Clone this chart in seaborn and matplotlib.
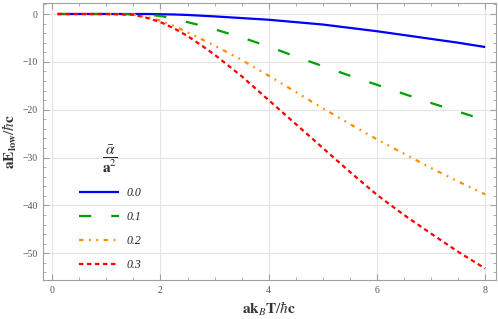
import matplotlib
matplotlib.use("Agg")
import matplotlib.pyplot as plt
import numpy as np
import pandas as pd
import seaborn as sns
from matplotlib.ticker import MultipleLocator

# temperature axis (ak_B T / hbar c)
x_vals = [0.1, 1.0, 1.5, 1.75, 2.0, 2.25, 2.5, 2.75, 3.0, 3.5, 4.0,
          4.5, 5.0, 5.5, 6.0, 6.5, 7.0, 7.5, 8.0]

# aE_low / hbar c for each alpha-bar / a^2
e_00 = [0, 0, 0, 0, -0.05, -0.1, -0.2, -0.35, -0.5, -0.85, -1.2,
        -1.7, -2.2, -2.9, -3.6, -4.4, -5.2, -6.0, -6.9]
e_01 = [0, 0, -0.05, -0.15, -0.4, -1.0, -1.7, -2.4, -3.2, -4.9, -6.8,
        -8.9, -10.9, -12.9, -14.8, -16.7, -18.6, -20.4, -22.2]
e_02 = [0, 0, -0.1, -0.6, -1.4, -2.5, -3.8, -5.2, -6.6, -9.6, -12.9,
        -16.3, -19.7, -23.0, -26.2, -29.2, -32.2, -35.0, -37.7]
e_03 = [0, 0, -0.15, -0.8, -1.7, -3.0, -4.6, -6.5, -8.5, -13.0, -18.0,
        -23.0, -28.0, -33.0, -37.8, -42.0, -45.9, -49.7, -53.2]

labels = ["0.0", "0.1", "0.2", "0.3"]
colors = ["#0000ff", "#00a000", "#ff8c00", "#ff0000"]
dashes = [(1, 0), (5.5, 9), (2, 2.5, 0.8, 2.5, 0.8, 2.5), (2, 1.6)]

df = pd.DataFrame({
    "x": x_vals * 4,
    "E": e_00 + e_01 + e_02 + e_03,
    "alpha": [lab for lab in labels for _ in x_vals],
})

sns.set_style("ticks")
plt.rcParams["font.family"] = ["Liberation Serif", "DejaVu Serif"]
plt.rcParams["mathtext.fontset"] = "stix"

fig = plt.figure(figsize=(4.98, 3.19), dpi=100)
ax = fig.add_axes([43 / 498, 1 - 280 / 319, 453 / 498, 277 / 319])

sns.lineplot(data=df, x="x", y="E", hue="alpha", style="alpha",
             palette=colors, dashes=dashes, linewidth=1.6, ax=ax)

ax.set_xlim(-0.17, 8.2)
ax.set_ylim(-55.6, 2.3)
ax.xaxis.set_major_locator(MultipleLocator(2))
ax.xaxis.set_minor_locator(MultipleLocator(0.5))
ax.yaxis.set_major_locator(MultipleLocator(10))
ax.yaxis.set_minor_locator(MultipleLocator(2))
ax.grid(True, which="major", color="#e3e3e3", linewidth=0.8)

for side in ax.spines.values():
    side.set_color("#a0a0a0")
    side.set_linewidth(0.8)
ax.tick_params(which="both", direction="in", top=True, right=True,
               color="#a0a0a0", labelcolor="#555555", labelsize=7, pad=4)
ax.tick_params(which="major", length=4)
ax.tick_params(which="minor", length=2.2)

ax.set_xlabel(r"$\mathbf{ak}_{B}\mathbf{T}/\hbar\mathbf{c}$", fontsize=11,
              color="#333333", labelpad=4)
ax.set_ylabel(r"$\mathbf{aE}_{\mathbf{low}}/\hbar\mathbf{c}$", fontsize=11,
              color="#333333", labelpad=2)

handles, labs = ax.get_legend_handles_labels()
leg = ax.legend(handles, labs, title=r"$\dfrac{\bar{\alpha}}{\mathbf{a}^{2}}$",
                loc="lower left", bbox_to_anchor=(0.055, -0.005), frameon=False,
                fontsize=8.5, title_fontsize=11, handlelength=3.4,
                labelspacing=1.02, handletextpad=0.7)
for t in leg.get_texts():
    t.set_fontstyle("italic")

fig.savefig("out.png", dpi=100)
